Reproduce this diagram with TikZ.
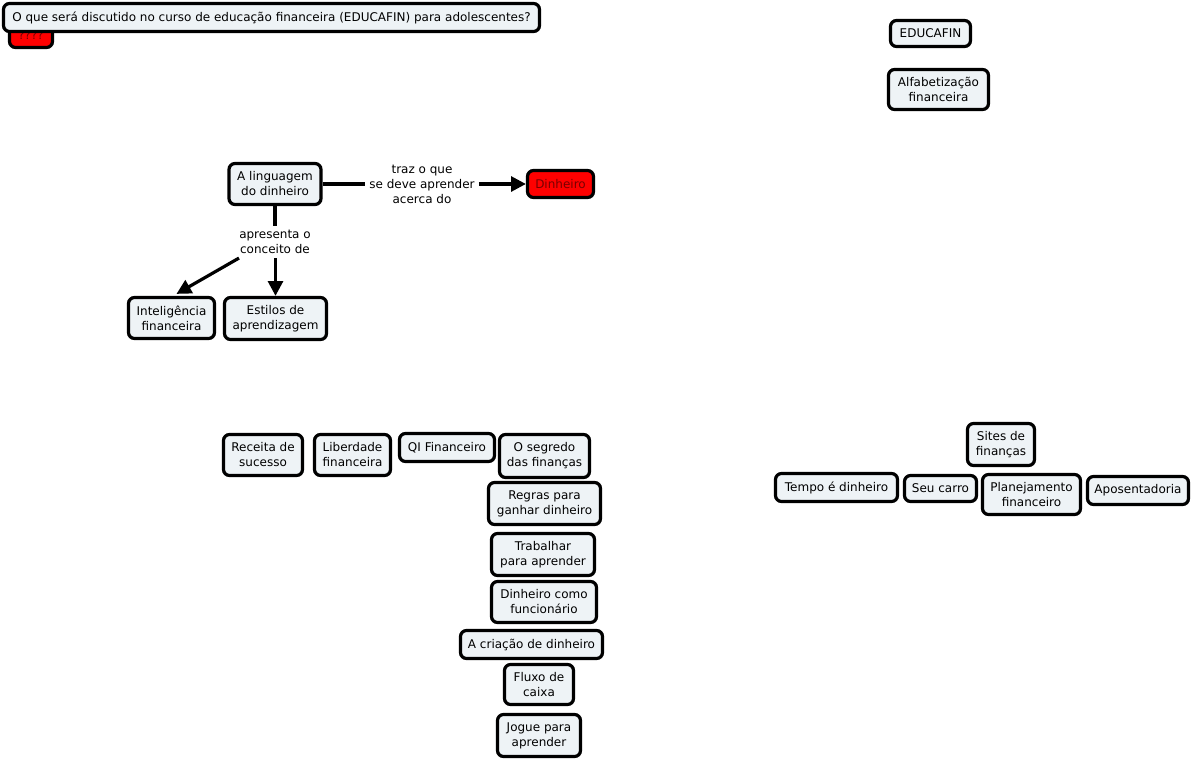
\documentclass[tikz,border=0pt]{standalone}
\usepackage{fontspec}
\setmainfont{DejaVu Sans}
\usetikzlibrary{arrows.meta,calc}
\definecolor{cfill}{RGB}{238,243,246}
\definecolor{dred}{RGB}{120,0,0}
\newcommand{\fs}{\fontsize{9}{11.25}\selectfont}
\begin{document}
\begin{tikzpicture}[x=0.75pt,y=-0.75pt,
  concept/.style={draw, line width=2.4pt, rounded corners=4.5pt, fill=cfill, inner sep=0pt, align=center, font=\fs},
  redc/.style={concept, fill=red, text=dred},
  lbl/.style={inner sep=3pt, align=center, font=\fs},
  ln/.style={line width=2.4pt},
  arr/.style={line width=2.4pt, -{Triangle[length=11pt,width=11pt]}},
  sz/.style 2 args={minimum width=#1*0.75pt, minimum height=#2*0.75pt}]
\useasboundingbox (0,0) rectangle (1192,760);
\fill[white] (0,0) rectangle (1192,760);
% hidden red concept behind the title
\node[redc, sz={43}{25}] (redq) at (31,35) {????};
\node[concept, sz={536}{28}] (title) at (271.5,17.5) {O que será discutido no curso de educação financeira (EDUCAFIN) para adolescentes?};
% top right
\node[concept, sz={80}{26}] (educafin) at (930.5,33.5) {EDUCAFIN};
\node[concept, sz={100}{40}] (alfa) at (938.5,89.5) {Alfabetização\\ financeira};
% linguagem group
\node[concept, sz={92}{41}] (ling) at (275,184) {A linguagem\\do dinheiro};
\node[redc, sz={66}{27}] (din) at (560.5,184) {Dinheiro};
\node[lbl] (lbl1) at (422,184) {traz o que\\se deve aprender\\acerca do};
\node[lbl] (lbl2) at (275,242) {apresenta o\\conceito de};
\node[concept, sz={86}{41}] (intel) at (171.5,318) {Inteligência\\financeira};
\node[concept, sz={102}{42}] (estilos) at (275.5,318.5) {Estilos de\\aprendizagem};
\draw[ln] (ling.east) -- (lbl1.west);
\draw[arr] (lbl1.east) -- (din.west);
\draw[ln] (ling.south) -- (lbl2.north);
\draw[arr] (lbl2.south -| estilos.north) -- (estilos.north);
\draw[arr] ($(lbl2.south west)+(4,0)$) -- ($(intel.north)+(5,-2)$);
% bottom middle
\node[concept, sz={79}{41}] (receita) at (263,455) {Receita de\\sucesso};
\node[concept, sz={76}{41}] (liberdade) at (352.5,455) {Liberdade\\financeira};
\node[concept, sz={95}{28}] (qi) at (447,447.5) {QI Financeiro};
\node[concept, sz={90}{43}] (segredo) at (544.5,456) {O segredo\\das finanças};
\node[concept, sz={112}{42}] (regras) at (544.5,503.5) {Regras para\\ganhar dinheiro};
\node[concept, sz={103}{42}] (trabalhar) at (543,554.5) {Trabalhar\\para aprender};
\node[concept, sz={105}{41}] (funcionario) at (544,602) {Dinheiro como\\funcionário};
\node[concept, sz={142}{28}] (criacao) at (531.5,644.5) {A criação de dinheiro};
\node[concept, sz={69}{40}] (fluxo) at (539,684.5) {Fluxo de\\caixa};
\node[concept, sz={83}{42}] (jogue) at (539,735.5) {Jogue para\\aprender};
% bottom right
\node[concept, sz={67}{42}] (sites) at (1001,444.5) {Sites de\\finanças};
\node[concept, sz={122}{28}] (tempo) at (836.5,487.5) {Tempo é dinheiro};
\node[concept, sz={72}{26}] (carro) at (940.5,488.5) {Seu carro};
\node[concept, sz={98}{40}] (plan) at (1031.5,494.5) {Planejamento\\financeiro};
\node[concept, sz={101}{28}] (apos) at (1138,490.5) {Aposentadoria};
\end{tikzpicture}
\end{document}
